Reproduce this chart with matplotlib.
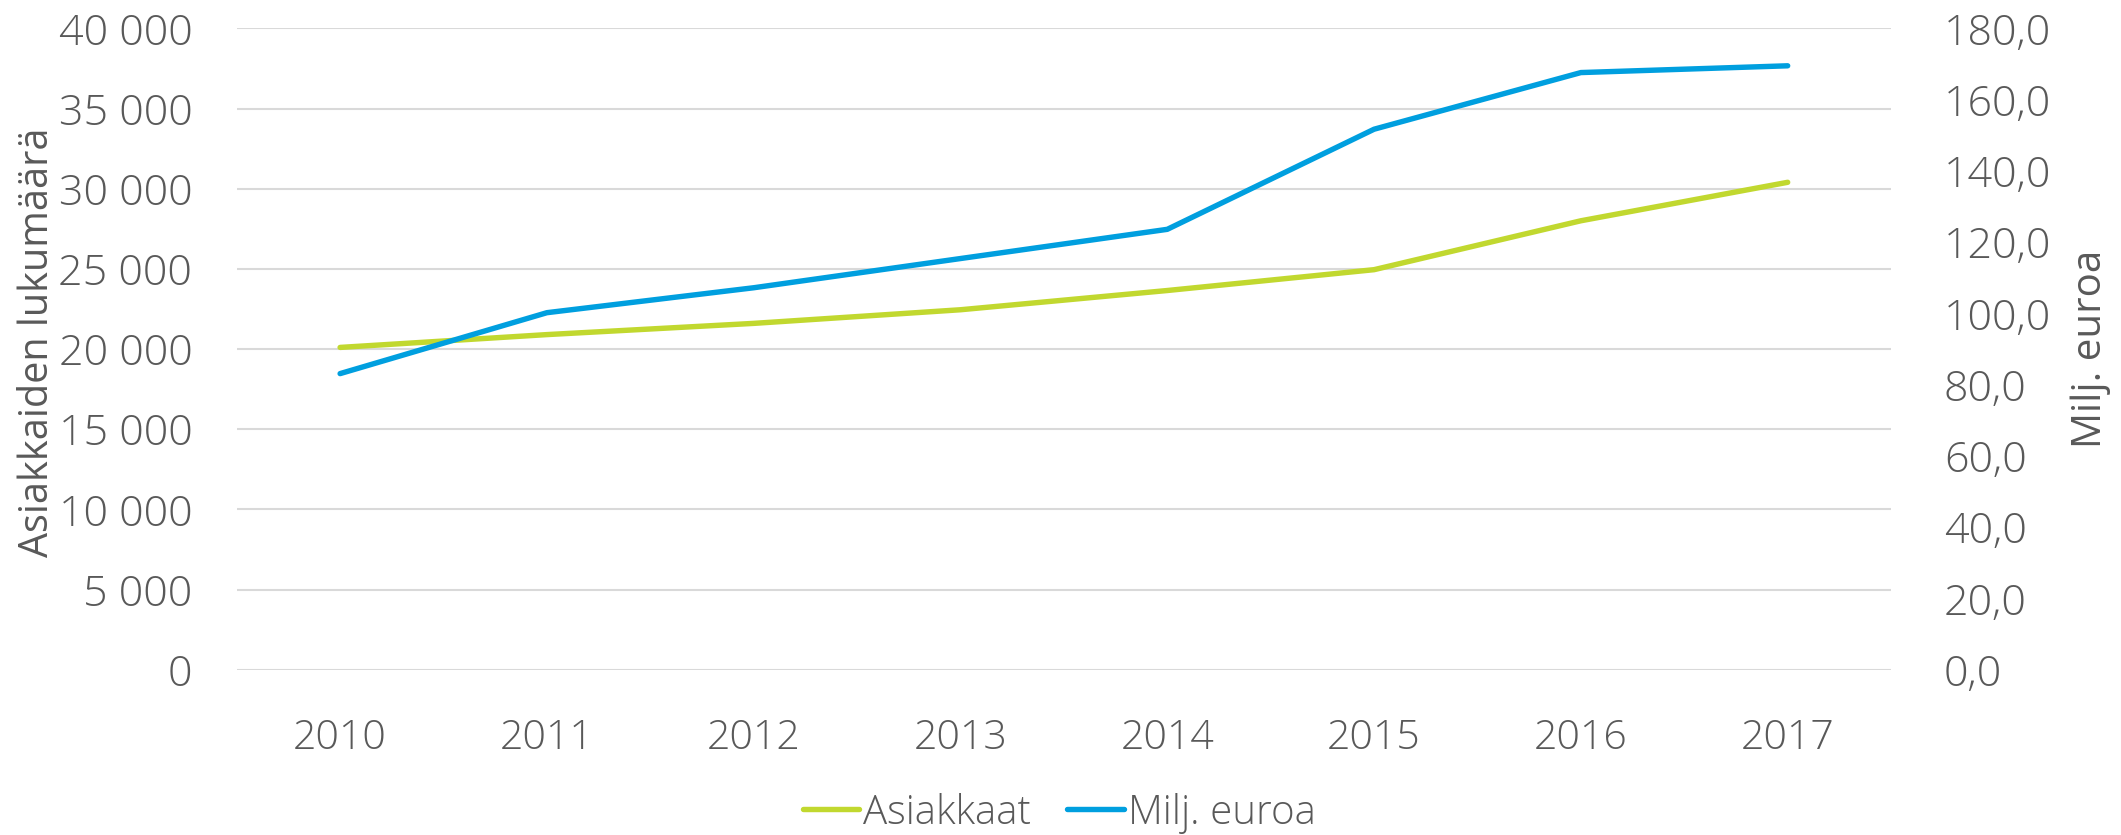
import matplotlib
matplotlib.use("Agg")
import matplotlib.pyplot as plt
from matplotlib.ticker import FuncFormatter

plt.rcParams['font.family'] = ['Open Sans', 'DejaVu Sans']
plt.rcParams['font.weight'] = 'light'

# data
vuodet = ["2010", "2011", "2012", "2013", "2014", "2015", "2016", "2017"]
asiakkaat = [20100, 20900, 21600, 22450, 23650, 24950, 28000, 30400]
milj_euroa = [83.1, 100.2, 107.2, 115.4, 123.6, 151.7, 167.6, 169.5]

vihrea = "#C1D82F"
sininen = "#009FDF"
harmaa = "#595959"
koko = 31

fig = plt.figure(figsize=(21.21, 8.35), dpi=100)
ax = fig.add_axes([0.1116, 0.198, 0.78, 0.768])
ax2 = ax.twinx()

x = range(len(vuodet))
l1, = ax.plot(x, asiakkaat, color=vihrea, lw=3.9, solid_capstyle='round', solid_joinstyle='round', label="Asiakkaat")
l2, = ax2.plot(x, milj_euroa, color=sininen, lw=3.9, solid_capstyle='round', solid_joinstyle='round', label="Milj. euroa")

ax.set_xlim(-0.5, len(vuodet) - 0.5)
ax.set_ylim(0, 40000)
ax2.set_ylim(0, 180)
ax.set_yticks(range(0, 40001, 5000))
ax2.set_yticks(range(0, 181, 20))
ax.set_xticks(list(x))
ax.set_xticklabels(vuodet)

ax.yaxis.set_major_formatter(FuncFormatter(lambda v, p: "{:,.0f}".format(v).replace(",", " ")))
ax2.yaxis.set_major_formatter(FuncFormatter(lambda v, p: "{:.1f}".format(v).replace(".", ",")))

ax.grid(axis='y', color="#D9D9D9", lw=1.5)
ax.set_axisbelow(True)
for a in (ax, ax2):
    for s in a.spines.values():
        s.set_visible(False)

ax.tick_params(axis='y', length=0, pad=32, labelsize=koko, labelcolor=harmaa)
ax.tick_params(axis='x', length=0, pad=35, labelsize=29.5, labelcolor=harmaa)
ax2.tick_params(axis='y', length=0, pad=38, labelsize=koko, labelcolor=harmaa)

ax.set_ylabel("Asiakkaiden lukumäärä", fontsize=28.5, color=harmaa)
ax.yaxis.set_label_coords(-0.108, 0.51)
ax2.set_ylabel("Milj. euroa", fontsize=29, color=harmaa, rotation=90)
ax2.yaxis.set_label_coords(1.1085, 0.5)

leg = fig.legend(handles=[l1, l2], loc='center', bbox_to_anchor=(0.4993, 0.0263), ncol=2,
                 frameon=False, fontsize=29, handlelength=1.4, handletextpad=0.1, columnspacing=0.9)
for t in leg.get_texts():
    t.set_color(harmaa)

fig.savefig("out.png", dpi=100)
